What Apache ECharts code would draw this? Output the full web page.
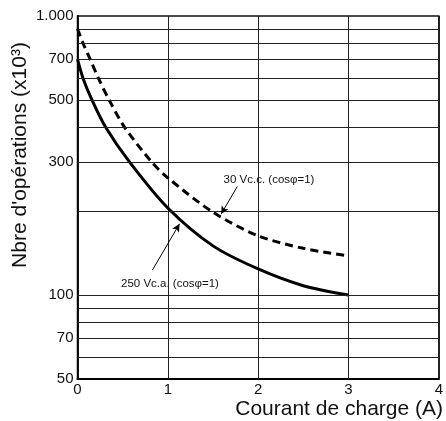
<!DOCTYPE html>
<html>
<head>
<meta charset="utf-8">
<script src="https://cdn.jsdelivr.net/npm/echarts@6/dist/echarts.min.js"></script>
<style>
html,body{margin:0;padding:0;background:#fff;}
#chart{width:446px;height:421px;}
</style>
</head>
<body>
<div id="chart"></div>
<script>
// Data
const xTicks = [0, 1, 2, 3, 4];
const yLabelValues = [50, 70, 100, 300, 500, 700, 1000];
const yGridValues = [60, 70, 80, 90, 100, 200, 300, 400, 500, 600, 700, 800, 900];
const acX = [0, 0.06, 0.16, 0.31, 0.575, 1.0, 1.5, 2.0, 2.5, 3.0];
const acY = [700, 600, 500, 400, 300, 205, 150, 124, 108, 100];
const dcX = [0, 0.06, 0.14, 0.23, 0.35, 0.52, 0.82, 1.0, 1.5, 2.0, 2.5, 3.0];
const dcY = [900, 800, 700, 600, 500, 400, 300, 263, 198, 163, 147, 138];
const acLabel = '250 Vc.a. (cosφ=1)';
const dcLabel = '30 Vc.c. (cosφ=1)';
const acArrow = [[0.83, 123], [1.13, 180]];
const dcArrow = [[1.77, 245], [1.59, 195]];
const yTitle = "Nbre d'opérations (x10³)";
const xTitle = 'Courant de charge (A)';

const FONT = "'Liberation Sans', Arial, Helvetica, sans-serif";
const chart = echarts.init(document.getElementById('chart'));
const zip = (xs, ys) => xs.map((x, i) => [x, ys[i]]);

chart.setOption({
  animation: false,
  backgroundColor: '#fff',
  grid: { left: 77.5, right: 5, top: 16, bottom: 42, show: true, borderColor: '#111', borderWidth: 1.5, containLabel: false },
  xAxis: {
    type: 'value', min: 0, max: 4, interval: 1,
    axisLine: { show: true, lineStyle: { color: '#000', width: 1.8 } },
    axisTick: { show: false },
    splitLine: { show: true, lineStyle: { color: '#222', width: 1 } },
    axisLabel: { color: '#111', fontFamily: FONT, fontSize: 15, margin: 3 }
  },
  yAxis: {
    type: 'log', logBase: 10, min: 50, max: 1000,
    axisLine: { show: true, lineStyle: { color: '#000', width: 1.8 } },
    axisTick: { show: false },
    splitLine: { show: false },
    axisLabel: {
      customValues: yLabelValues,
      color: '#111', fontFamily: FONT, fontSize: 15, margin: 4,
      formatter: v => (Math.round(v) === 1000 ? '1.000' : String(Math.round(v)))
    }
  },
  graphic: [
    { type: 'text', x: 20, y: 155, rotation: Math.PI / 2,
      style: { text: yTitle, font: '21px ' + FONT, fill: '#111', align: 'center', verticalAlign: 'middle' } },
    { type: 'text', x: 443, y: 409,
      style: { text: xTitle, font: '21px ' + FONT, fill: '#111', align: 'right', verticalAlign: 'middle' } },
    { type: 'text', x: 269, y: 180,
      style: { text: dcLabel, font: '11.5px ' + FONT, fill: '#111', align: 'center', verticalAlign: 'middle' } },
    { type: 'text', x: 170, y: 284,
      style: { text: acLabel, font: '11.5px ' + FONT, fill: '#111', align: 'center', verticalAlign: 'middle' } }
  ],
  series: [
    {
      name: 'grid', type: 'line', data: zip(acX, acY), z: 1,
      symbol: 'none', lineStyle: { opacity: 0 }, silent: true,
      markLine: {
        silent: true, symbol: 'none', animation: false,
        label: { show: false },
        lineStyle: { color: '#222', width: 1, type: 'solid' },
        data: yGridValues.map(v => ({ yAxis: v }))
      }
    },
    {
      name: 'dc', type: 'line', data: zip(dcX, dcY), smooth: 0.3, z: 3,
      symbol: 'none', lineStyle: { color: '#000', width: 3, type: [8, 5] },
      markLine: {
        silent: true, symbol: ['none', 'arrow'], symbolSize: [6, 8], animation: false,
        label: { show: false },
        lineStyle: { color: '#000', width: 1, type: 'solid' },
        data: [[{ coord: dcArrow[0] }, { coord: dcArrow[1] }]]
      }
    },
    {
      name: 'ac', type: 'line', data: zip(acX, acY), smooth: 0.3, z: 3,
      symbol: 'none', lineStyle: { color: '#000', width: 3 },
      markLine: {
        silent: true, symbol: ['none', 'arrow'], symbolSize: [6, 8], animation: false,
        label: { show: false },
        lineStyle: { color: '#000', width: 1, type: 'solid' },
        data: [[{ coord: acArrow[0] }, { coord: acArrow[1] }]]
      }
    }
  ]
});
</script>
</body>
</html>
